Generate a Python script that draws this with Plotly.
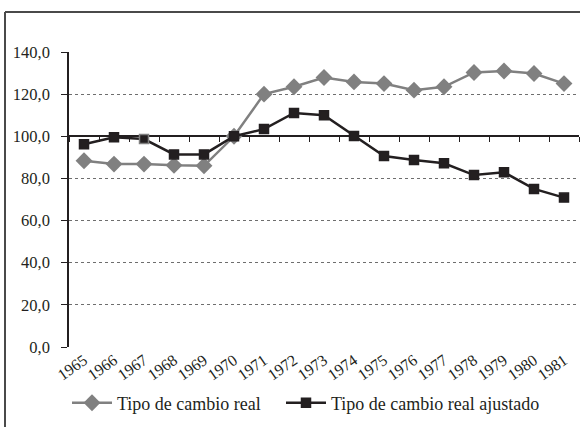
import plotly.graph_objects as go

# Annual series, 1965-1981 (index, 1970 = 100)
years = [str(y) for y in range(1965, 1982)]
tipo_real = [88.4, 86.8, 86.8, 86.2, 86.0, 100.0, 120.0, 123.5, 127.9, 125.8,
             125.0, 121.9, 123.5, 130.3, 131.0, 129.8, 125.0]
tipo_ajustado = [96.2, 99.5, 98.7, 91.4, 91.4, 100.0, 103.4, 111.1, 110.0, 100.1,
                 90.6, 88.7, 87.2, 81.6, 82.9, 75.0, 70.9]
y_ticks = [0, 20, 40, 60, 80, 100, 120, 140]
name_real = "Tipo de cambio real"
name_ajustado = "Tipo de cambio real ajustado"

GRAY = "#808080"
BLACK = "#231f20"
FONT = "Liberation Serif, Times New Roman, DejaVu Serif, serif"

W, H = 580, 427
ML, MR, MT, MB = 69, 1, 52, 80
plot_w = W - ML - MR
plot_h = H - MT - MB
y_min, y_max = y_ticks[0], y_ticks[-1]
cross_at = 100  # horizontal category axis crosses the value axis here


def px_x(px):
    return (px - ML) / plot_w


def px_y(py):
    return (H - MB - py) / plot_h


fig = go.Figure()
fig.add_trace(go.Scatter(
    x=years, y=tipo_real, name=name_real, mode="lines+markers",
    line=dict(color=GRAY, width=2.5),
    marker=dict(symbol="diamond", size=13, color=GRAY),
    xaxis="x", yaxis="y", legend="legend", showlegend=True,
))
marker_edge = [BLACK] * len(years)
marker_edge[2] = GRAY
fig.add_trace(go.Scatter(
    x=years, y=tipo_ajustado, name=name_ajustado, mode="lines+markers",
    line=dict(color=BLACK, width=2.5),
    marker=dict(symbol="square", size=9, color=BLACK,
                line=dict(color=marker_edge, width=1.5)),
    xaxis="x2", yaxis="y", legend="legend2", showlegend=True,
))

legend_style = dict(
    orientation="h", xanchor="left", y=-0.19, yanchor="middle",
    font=dict(size=18, family=FONT, color=BLACK),
    itemwidth=40, bgcolor="rgba(0,0,0,0)", visible=True,
)

cat_range = [-0.5, len(years) - 0.5]
fig.update_layout(
    width=W, height=H,
    margin=dict(l=ML, r=MR, t=MT, b=MB, pad=0),
    paper_bgcolor="white", plot_bgcolor="white",
    font=dict(family=FONT, color=BLACK, size=16),
    separators=",.",
    showlegend=True,
    xaxis=dict(
        type="category", categoryorder="array", categoryarray=years,
        range=cat_range, showgrid=False, showline=False, zeroline=False,
        ticks="", tickangle=-35, tickfont=dict(size=16, family=FONT, color=BLACK),
    ),
    xaxis2=dict(
        type="category", categoryorder="array", categoryarray=years,
        range=cat_range, overlaying="x", anchor="free",
        position=(cross_at - y_min) / (y_max - y_min),
        showline=True, linecolor=BLACK, linewidth=1.5, layer="below traces",
        ticks="outside", tickson="boundaries", ticklen=5, tickcolor=BLACK,
        tickwidth=1.2, showticklabels=False, showgrid=False, zeroline=False,
    ),
    yaxis=dict(
        range=[y_min, y_max], tickvals=y_ticks, tickformat=".1f",
        showline=True, linecolor=BLACK, linewidth=1.5,
        ticks="outside", ticklen=6, tickcolor=BLACK, tickwidth=1.2,
        ticklabelstandoff=8,
        showgrid=True, gridcolor="#6e6e6e", gridwidth=1.3, griddash="dot",
        zeroline=False, tickfont=dict(size=16.5, family=FONT, color=BLACK),
        layer="below traces",
    ),
    legend=dict(x=px_x(67), **legend_style),
    legend2=dict(x=px_x(281), **legend_style),
    shapes=[
        # outer frame: left and top rules
        dict(type="line", xref="paper", yref="paper",
             x0=px_x(5), x1=px_x(5), y0=px_y(12), y1=px_y(H),
             line=dict(color="#4a4a4a", width=2)),
        dict(type="line", xref="paper", yref="paper",
             x0=px_x(5), x1=px_x(W), y0=px_y(12), y1=px_y(12),
             line=dict(color="#4a4a4a", width=2)),
    ],
)

fig.write_html("out.html")
